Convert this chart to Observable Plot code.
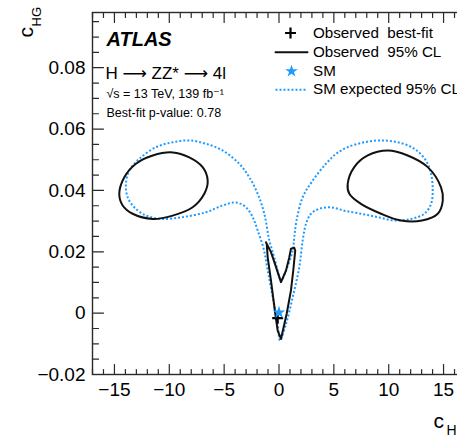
<!DOCTYPE html>
<html>
<head>
<meta charset="utf-8">
<script src="https://cdn.jsdelivr.net/npm/d3@7"></script>
<script src="https://cdn.jsdelivr.net/npm/@observablehq/plot@0.6"></script>
<style>
  html, body { margin: 0; padding: 0; background: #fff; overflow: hidden; }
  #wrap { width: 457px; height: 435px; overflow: hidden; position: relative; }
  #wrap svg { max-width: none !important; }
</style>
</head>
<body>
<div id="wrap"></div>
<script>
// ---- data ----
const xTickValues = [-15, -10, -5, 0, 5, 10, 15];
const xTickLabels = ["−15", "−10", "−5", "0", "5", "10", "15"];
const yTickValues = [-0.02, 0, 0.02, 0.04, 0.06, 0.08];
const yTickLabels = ["−0.02", "0", "0.02", "0.04", "0.06", "0.08"];

// observed 95% CL contour: three closed pieces
const observedLeftLobe = [
  [-14.56, 0.0389], [-14.10, 0.0443], [-13.04, 0.0487], [-11.51, 0.0514], [-9.69, 0.0524],
  [-8.18, 0.0508], [-6.96, 0.0476], [-6.50, 0.0432], [-6.81, 0.0389], [-7.87, 0.0345],
  [-9.69, 0.0318], [-11.51, 0.0307], [-13.34, 0.0324], [-14.25, 0.0351]
];
const observedRightLobe = [
  [6.26, 0.0421], [6.86, 0.0476], [8.09, 0.0514], [9.91, 0.0530], [11.73, 0.0514],
  [13.56, 0.0476], [14.77, 0.0410], [14.93, 0.0367], [14.47, 0.0324], [13.03, 0.0302],
  [11.12, 0.0302], [9.30, 0.0324], [7.47, 0.0356], [6.41, 0.0389]
];
const observedCentral = [
  [-1.19, 0.0231], [-0.73, 0.0199], [-0.27, 0.0150], [0.18, 0.0101], [0.64, 0.0139],
  [0.94, 0.0182], [1.09, 0.0210], [1.39, 0.0213], [1.48, 0.0204], [1.30, 0.0139],
  [1.09, 0.0074], [0.70, -0.0002], [0.18, -0.0084], [-0.12, -0.0057], [-0.34, -0.0002],
  [-0.73, 0.0106], [-1.03, 0.0182], [-1.12, 0.0226]
];

// SM expected 95% CL contour (single closed curve)
const smExpected = [
  [-13.95, 0.0421], [-13.65, 0.0465], [-12.73, 0.0503], [-11.21, 0.0541], [-9.69, 0.0557],
  [-8.18, 0.0563], [-6.65, 0.0552], [-5.13, 0.0530], [-3.62, 0.0487], [-2.71, 0.0443],
  [-1.94, 0.0389], [-1.34, 0.0324], [-0.88, 0.0237], [-0.43, 0.0182], [0.03, 0.0117],
  [0.18, 0.0103], [0.64, 0.0139], [1.25, 0.0204], [1.40, 0.0250], [1.60, 0.0302],
  [2.16, 0.0378], [3.07, 0.0432], [4.28, 0.0487], [5.20, 0.0519], [6.26, 0.0541],
  [7.78, 0.0557], [9.30, 0.0563], [10.81, 0.0557], [12.33, 0.0536], [13.40, 0.0497],
  [13.86, 0.0454], [14.01, 0.0400], [13.86, 0.0356], [13.25, 0.0324], [12.03, 0.0307],
  [10.51, 0.0302], [9.00, 0.0313], [7.47, 0.0324], [5.95, 0.0334], [4.74, 0.0345],
  [3.67, 0.0340], [2.92, 0.0324], [2.46, 0.0291], [2.16, 0.0237], [1.85, 0.0150],
  [1.25, 0.0052], [0.64, -0.0035], [0.09, -0.0089], [-0.12, -0.0035], [-0.57, 0.0052],
  [-1.03, 0.0139], [-1.40, 0.0210], [-1.94, 0.0269], [-2.40, 0.0313], [-3.01, 0.0345],
  [-3.92, 0.0361], [-5.13, 0.0351], [-6.65, 0.0329], [-8.78, 0.0313], [-10.60, 0.0307],
  [-12.12, 0.0318], [-13.19, 0.0345], [-13.80, 0.0378]
];

const observedBestFit = [[-0.12, -0.0016]];
const smPoint = [[0, 0.0002]];

const legendLabels = ["Observed  best-fit", "Observed  95% CL", "SM", "SM expected 95% CL"];
const annotationLines = ["H ⟶ ZZ* ⟶ 4l", "√s = 13 TeV, 139 fb⁻¹", "Best-fit p-value: 0.78"];

// ---- style / layout ----
const BLUE = "#1f9bff";
const INK = "#111";
const FRAME = "#2a2a2a";
const FONT = "'Liberation Sans', Arial, Helvetica, 'DejaVu Sans', sans-serif";
const DOTS = "2,2";
const mL = 92, mT = 12;

const lineShape = {draw(ctx, l) { ctx.moveTo(0, 0); ctx.lineTo(0, -l); }};
const xMinor = d3.range(-17, 17.001, 1).filter(v => v % 5 !== 0);
const yMinor = d3.range(-0.02, 0.0985, 0.005).filter(v => Math.abs(Math.round(v / 0.02) * 0.02 - v) > 1e-6);

const P = (d) => d[0];
const Q = (d) => d[1];

function legendText(i) {
  const baselines = [37.5, 56, 75, 93.5];
  return Plot.text([legendLabels[i]], {
    text: d => d, frameAnchor: "top-left", dx: 312.5 - mL, dy: baselines[i] - mT,
    textAnchor: "start", lineAnchor: "bottom", fontSize: 15.2, fill: "#000"
  });
}

const chart = Plot.plot({
  width: 465,
  height: 435,
  marginLeft: mL,
  marginRight: 0,
  marginTop: mT,
  marginBottom: 61,
  x: {domain: [-17, 17], axis: null},
  y: {domain: [-0.02, 0.098], axis: null},
  style: {fontFamily: FONT, background: "#fff", color: "#000", overflow: "visible", maxWidth: "none"},
  marks: [
    // contours
    Plot.line(smExpected, {x: P, y: Q, curve: "catmull-rom-closed", stroke: BLUE, strokeWidth: 2, strokeDasharray: DOTS, strokeLinecap: "butt"}),
    Plot.line(observedLeftLobe, {x: P, y: Q, curve: "catmull-rom-closed", stroke: INK, strokeWidth: 2}),
    Plot.line(observedRightLobe, {x: P, y: Q, curve: "catmull-rom-closed", stroke: INK, strokeWidth: 2}),
    Plot.line(observedCentral, {x: P, y: Q, curve: "linear-closed", stroke: INK, strokeWidth: 2, strokeLinejoin: "round"}),
    // points
    Plot.dot(observedBestFit, {x: P, y: Q, symbol: "plus", r: 3.6, stroke: "#000", strokeWidth: 2.2}),
    Plot.dot(smPoint, {x: P, y: Q, symbol: "star", r: 4, fill: BLUE, stroke: "none"}),

    // frame & ticks (inside, ROOT style)
    Plot.frame({stroke: FRAME, strokeWidth: 1.4}),
    Plot.vector(xTickValues, {x: d => d, frameAnchor: "bottom", anchor: "start", length: 10, rotate: 0, shape: lineShape, stroke: FRAME, strokeWidth: 1.2}),
    Plot.vector(xMinor, {x: d => d, frameAnchor: "bottom", anchor: "start", length: 5, rotate: 0, shape: lineShape, stroke: FRAME, strokeWidth: 1.2}),
    Plot.vector(xTickValues, {x: d => d, frameAnchor: "top", anchor: "start", length: 10, rotate: 180, shape: lineShape, stroke: FRAME, strokeWidth: 1.2}),
    Plot.vector(xMinor, {x: d => d, frameAnchor: "top", anchor: "start", length: 5, rotate: 180, shape: lineShape, stroke: FRAME, strokeWidth: 1.2}),
    Plot.vector(yTickValues, {y: d => d, frameAnchor: "left", anchor: "start", length: 11, rotate: 90, shape: lineShape, stroke: FRAME, strokeWidth: 1.2}),
    Plot.vector(yMinor, {y: d => d, frameAnchor: "left", anchor: "start", length: 6, rotate: 90, shape: lineShape, stroke: FRAME, strokeWidth: 1.2}),

    // tick labels
    Plot.axisX({ticks: xTickValues, tickSize: 0, tickPadding: 8, tickFormat: (d) => xTickLabels[xTickValues.indexOf(d)], fontSize: 19, label: null, anchor: "bottom"}),
    Plot.axisY({ticks: yTickValues, tickSize: 0, tickPadding: 7, tickFormat: (d) => yTickLabels[yTickValues.indexOf(d)], fontSize: 19, label: null, anchor: "left"}),

    // axis titles
    Plot.text(["c"], {text: d => d, frameAnchor: "top-left", dx: 32 - mL, dy: 37 - mT, rotate: -90, textAnchor: "start", lineAnchor: "bottom", fontSize: 21}),
    Plot.text(["HG"], {text: d => d, frameAnchor: "top-left", dx: 40 - mL, dy: 26 - mT, rotate: -90, textAnchor: "start", lineAnchor: "bottom", fontSize: 13}),
    Plot.text(["c"], {text: d => d, frameAnchor: "top-left", dx: 433 - mL, dy: 427 - mT, textAnchor: "start", lineAnchor: "bottom", fontSize: 21}),
    Plot.text(["H"], {text: d => d, frameAnchor: "top-left", dx: 446 - mL, dy: 434 - mT, textAnchor: "start", lineAnchor: "bottom", fontSize: 14}),

    // annotations
    Plot.text(["ATLAS"], {text: d => d, frameAnchor: "top-left", dx: 106 - mL, dy: 45 - mT, textAnchor: "start", lineAnchor: "bottom", fontSize: 20, fontWeight: "bold", fontStyle: "italic"}),
    Plot.text([annotationLines[0]], {text: d => d, frameAnchor: "top-left", dx: 105 - mL, dy: 78.5 - mT, textAnchor: "start", lineAnchor: "bottom", fontSize: 17}),
    Plot.text([annotationLines[1]], {text: d => d, frameAnchor: "top-left", dx: 106 - mL, dy: 97 - mT, textAnchor: "start", lineAnchor: "bottom", fontSize: 12.5}),
    Plot.text([annotationLines[2]], {text: d => d, frameAnchor: "top-left", dx: 106 - mL, dy: 116.5 - mT, textAnchor: "start", lineAnchor: "bottom", fontSize: 12.5}),

    // legend
    Plot.dot([0], {frameAnchor: "top-left", dx: 290 - mL, dy: 32.5 - mT, symbol: "plus", r: 3.6, stroke: "#000", strokeWidth: 2.2}),
    Plot.vector([0], {frameAnchor: "top-left", dx: 275 - mL, dy: 51.7 - mT, anchor: "start", length: 32, rotate: 90, shape: lineShape, stroke: INK, strokeWidth: 2}),
    Plot.dot([0], {frameAnchor: "top-left", dx: 291 - mL, dy: 70.7 - mT, symbol: "star", r: 4, fill: BLUE, stroke: "none"}),
    Plot.vector([0], {frameAnchor: "top-left", dx: 275 - mL, dy: 89.3 - mT, anchor: "start", length: 32, rotate: 90, shape: lineShape, stroke: BLUE, strokeWidth: 2, strokeDasharray: DOTS, strokeLinecap: "butt"}),
    legendText(0), legendText(1), legendText(2), legendText(3)
  ]
});

chart.style.maxWidth = "none";
document.getElementById("wrap").appendChild(chart);
</script>
</body>
</html>
